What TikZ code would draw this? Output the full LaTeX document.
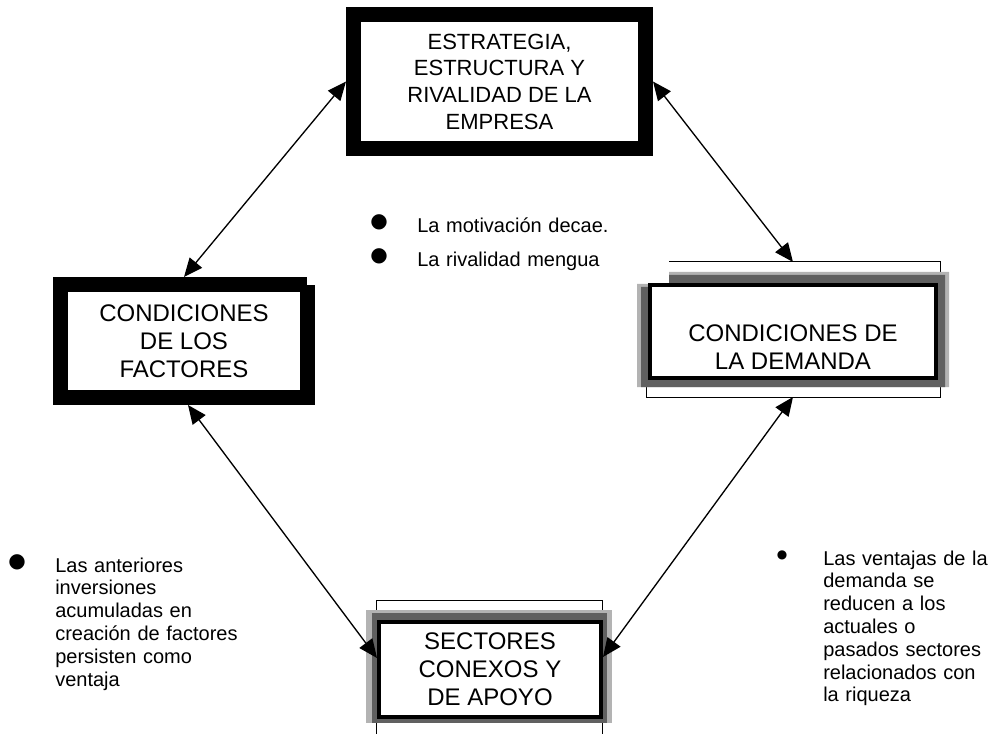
\documentclass[tikz,border=0pt]{standalone}
\usepackage{fontspec}
\setmainfont{Liberation Sans}
\newfontfamily\simbolos{DejaVu Sans}
\usepackage{xcolor}
\usepackage{tikz}
\usetikzlibrary{arrows.meta, positioning}
\definecolor{grisclaro}{HTML}{B3B3B3}
\definecolor{grisoscuro}{HTML}{606060}

\begin{document}
\begin{tikzpicture}[
        x=0.75pt, y=-0.75pt,
        marco/.style={rectangle, draw=black, line width=11.25pt, fill=white, align=center, inner sep=0pt},
        caja3d/.style={rectangle, draw=black, line width=3pt, fill=white, align=center, inner sep=0pt},
        titulo/.style={font=\fontsize{18pt}{21pt}\selectfont},
        nota/.style={anchor=base west, inner sep=0pt, text width=200pt, align=left, font=\fontsize{15pt}{17.1pt}\selectfont},
        vineta/.style={inner sep=0pt, font=\simbolos\fontsize{15pt}{15pt}\selectfont},
        flecha/.style={{Triangle[length=14pt,width=12pt]}-{Triangle[length=14pt,width=12pt]}, line width=1pt}
    ]
    \useasboundingbox (0,0) rectangle (989,734);

    \node (estrategia) [marco, minimum width=219pt, minimum height=100.5pt, font=\fontsize{16.5pt}{20pt}\selectfont] at (499.5,81.5) {ESTRATEGIA,\\ESTRUCTURA Y\\RIVALIDAD DE LA\\EMPRESA};

    \node (factores) [marco, titulo, minimum width=185.25pt, minimum height=84.75pt] at (184,341) {CONDICIONES\\DE LOS\\FACTORES};
    \fill [white] (307,277) rectangle (315,285);

    \node (demanda) [rectangle, minimum width=220.5pt, minimum height=101.25pt, inner sep=0pt, outer sep=0pt] at (793,329.5) {};
    \draw [line width=0.75pt] (669,262) -| (demanda.south east) -- (demanda.south west) -- ++(0,-17);
    \fill [grisclaro] (637,284) -- (669,284) -- (669,272) -- (949,272) -- (949,387) -- (637,387) -- cycle;
    \fill [grisoscuro] (641,287) -- (669,287) -- (669,275) -- (945,275) -- (945,387) -- (641,387) -- cycle;
    \node (demandacaja) [caja3d, minimum width=214.5pt, minimum height=69.75pt] at (793,331.5) {};
    \node (demandatxt) [titulo, align=center, inner sep=0pt] at (793,347.5) {CONDICIONES DE\\LA DEMANDA};

    \draw [line width=0.75pt] (376,734) -- (376,600) -- (602,600) -- (602,734);
    \fill [grisclaro] (366,610) rectangle (612,723);
    \fill [grisoscuro] (372,613) rectangle (607,723);
    \node (sectores) [caja3d, titulo, minimum width=166.5pt, minimum height=71.25pt] at (490,669.5) {SECTORES\\CONEXOS Y\\DE APOYO};

    \draw [flecha] (factores.north) -- (estrategia.west);
    \draw [flecha] (estrategia.east) -- (demanda.north);
    \draw [flecha] ([xshift=3pt]factores.south) -- ([yshift=8.6pt]sectores.west);
    \draw [flecha] (demanda.south) -- ([yshift=9.4pt]sectores.east);

    \node (motivacion) [nota] at (417,233) {La motivación decae.};
    \node (rivalidad) [nota] at (417,266.7) {La rivalidad mengua};
    \node (vin1) [vineta] at (379,222) {●};
    \node (vin2) [vineta] at (379,256) {●};

    \node (inversiones) [nota] at (55,572) {Las anteriores\\inversiones\\acumuladas en\\creación de factores\\persisten como\\ventaja};
    \node (vin3) [vineta] at (17,562) {●};

    \node (ventajas) [nota] at (823,565) {Las ventajas de la\\demanda se\\reducen a los\\actuales o\\pasados sectores\\relacionados con\\la riqueza};
    \node (vin4) [vineta, font=\simbolos\fontsize{9pt}{9pt}\selectfont] at (782,555) {●};

\end{tikzpicture}
\end{document}
